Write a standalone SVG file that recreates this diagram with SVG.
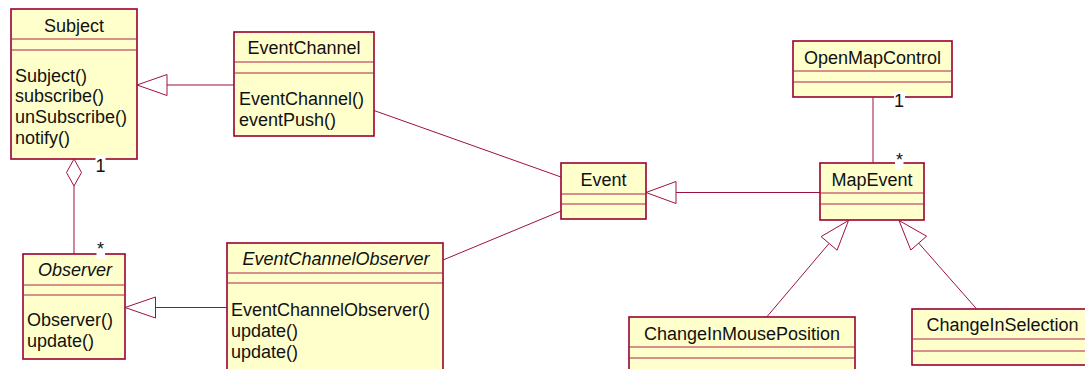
<svg xmlns="http://www.w3.org/2000/svg" width="1085" height="369" viewBox="0 0 1085 369">
  <style>
    .box { fill: #FFFFCC; stroke: #990033; stroke-width: 1.6; }
    .sep { stroke: #B0204F; stroke-width: 1; }
    .t { font-family: "Liberation Sans", Arial, sans-serif; font-size: 18px; fill: #111; }
    .c { text-anchor: middle; }
    .i { font-style: italic; }
    .ln { stroke: #A0103F; stroke-width: 1; fill: none; }
    .head { stroke: #A0103F; stroke-width: 1; fill: #FFFFFF; }
    .bg { fill: #FFFFFF; }
  </style>

  <rect x="0" y="0" width="1085" height="369" fill="#FFFFFF"/>

  <!-- classes -->
  <g id="subject">
    <rect class="box" x="11" y="9" width="126" height="150"/>
    <line class="sep" x1="11" y1="39" x2="137" y2="39"/>
    <line class="sep" x1="11" y1="50" x2="137" y2="50"/>
    <text class="t c" x="74" y="31.5">Subject</text>
    <text class="t" x="15" y="81.5">Subject()</text>
    <text class="t" x="15" y="102">subscribe()</text>
    <text class="t" x="15" y="123">unSubscribe()</text>
    <text class="t" x="15" y="144">notify()</text>
  </g>

  <g id="event-channel">
    <rect class="box" x="234" y="32" width="140" height="104"/>
    <line class="sep" x1="234" y1="62" x2="374" y2="62"/>
    <line class="sep" x1="234" y1="73" x2="374" y2="73"/>
    <text class="t c" x="304" y="53.5">EventChannel</text>
    <text class="t" x="239" y="105">EventChannel()</text>
    <text class="t" x="239" y="125.5">eventPush()</text>
  </g>

  <g id="observer">
    <rect class="box" x="23" y="254" width="102" height="105"/>
    <line class="sep" x1="23" y1="285" x2="125" y2="285"/>
    <line class="sep" x1="23" y1="295" x2="125" y2="295"/>
    <text class="t c i" x="75" y="275.5">Observer</text>
    <text class="t" x="27" y="326">Observer()</text>
    <text class="t" x="27" y="347">update()</text>
  </g>

  <g id="event-channel-observer">
    <rect class="box" x="227" y="243" width="216" height="140"/>
    <line class="sep" x1="227" y1="273" x2="443" y2="273"/>
    <line class="sep" x1="227" y1="283" x2="443" y2="283"/>
    <text class="t c i" x="336" y="265">EventChannelObserver</text>
    <text class="t" x="231" y="316">EventChannelObserver()</text>
    <text class="t" x="231" y="337">update()</text>
    <text class="t" x="231" y="358">update()</text>
  </g>

  <g id="event">
    <rect class="box" x="561" y="163" width="85" height="56"/>
    <line class="sep" x1="561" y1="194" x2="646" y2="194"/>
    <line class="sep" x1="561" y1="204" x2="646" y2="204"/>
    <text class="t c" x="603.5" y="186">Event</text>
  </g>

  <g id="open-map-control">
    <rect class="box" x="793" y="41" width="159" height="56"/>
    <line class="sep" x1="793" y1="71" x2="952" y2="71"/>
    <line class="sep" x1="793" y1="82" x2="952" y2="82"/>
    <text class="t c" x="872.5" y="63.5">OpenMapControl</text>
  </g>

  <g id="map-event">
    <rect class="box" x="820" y="163" width="104" height="57"/>
    <line class="sep" x1="820" y1="193" x2="924" y2="193"/>
    <line class="sep" x1="820" y1="204" x2="924" y2="204"/>
    <text class="t c" x="872" y="185.5">MapEvent</text>
  </g>

  <g id="change-in-mouse-position">
    <rect class="box" x="629" y="317" width="226" height="70"/>
    <line class="sep" x1="629" y1="347" x2="855" y2="347"/>
    <line class="sep" x1="629" y1="358" x2="855" y2="358"/>
    <text class="t c" x="742" y="339.5">ChangeInMousePosition</text>
  </g>

  <g id="change-in-selection">
    <rect class="box" x="912" y="309" width="181" height="56"/>
    <line class="sep" x1="912" y1="339" x2="1093" y2="339"/>
    <line class="sep" x1="912" y1="351" x2="1093" y2="351"/>
    <text class="t c" x="1002.5" y="331">ChangeInSelection</text>
  </g>

  <!-- relationships -->
  <g id="connectors">
    <!-- Subject aggregates Observer -->
    <line class="ln" x1="74" y1="186" x2="74" y2="254"/>
    <polygon class="head" points="74,159 81.5,172.5 74,186 66.5,172.5"/>
    <rect class="bg" x="95.5" y="155" width="10" height="18"/>
    <text class="t c" x="100.5" y="172">1</text>
    <rect class="bg" x="96.5" y="238" width="8.5" height="21"/>
    <text class="t c" x="100.5" y="255">*</text>

    <!-- EventChannel specialises Subject -->
    <line class="ln" x1="234" y1="85" x2="167" y2="85"/>
    <polygon class="head" points="137,85 167,74.5 167,95.5"/>

    <!-- EventChannelObserver specialises Observer -->
    <line class="ln" x1="227" y1="307.5" x2="155.5" y2="307.5"/>
    <polygon class="head" points="125,307.5 155.5,297 155.5,318"/>

    <!-- associations with Event -->
    <line class="ln" x1="374" y1="110.5" x2="561" y2="177"/>
    <line class="ln" x1="443" y1="260" x2="561" y2="211"/>

    <!-- MapEvent specialises Event -->
    <line class="ln" x1="820" y1="192.5" x2="676" y2="192.5"/>
    <polygon class="head" points="646,192.5 676,181.5 676,203.5"/>

    <!-- OpenMapControl to MapEvent -->
    <line class="ln" x1="873" y1="97" x2="873" y2="163"/>
    <rect class="bg" x="894" y="92" width="11" height="16"/>
    <text class="t c" x="899" y="106.5">1</text>
    <rect class="bg" x="895" y="150" width="8.5" height="19.5"/>
    <text class="t c" x="899.5" y="165.5">*</text>

    <!-- subclasses of MapEvent -->
    <line class="ln" x1="829.1" y1="243.4" x2="766.7" y2="317"/>
    <polygon class="head" points="848.5,220.5 821.1,236.6 837.1,250.2"/>
    <line class="ln" x1="918.7" y1="243.1" x2="976.7" y2="309"/>
    <polygon class="head" points="899,220.5 926.6,236.2 910.8,250"/>
  </g>
</svg>
